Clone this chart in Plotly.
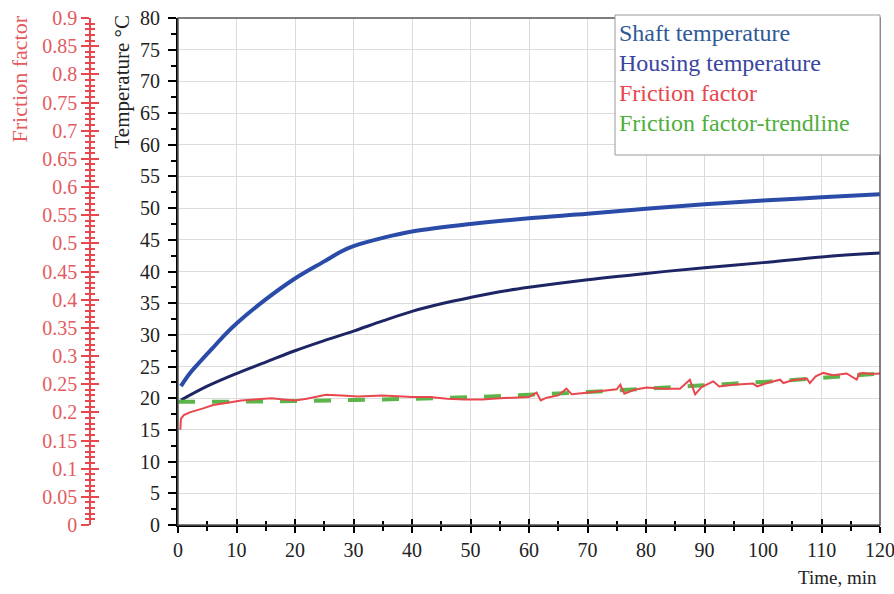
import plotly.graph_objects as go

# ---------------- data ----------------
shaft_t = [0.5, 2, 4, 6, 8, 10, 15, 20, 25, 28, 30, 35, 40, 50, 60, 70, 80, 90, 100, 110, 120]
shaft_temp = [21.9, 23.9, 26.0, 28.0, 30.0, 31.8, 35.6, 38.9, 41.6, 43.2, 44.0, 45.3, 46.3, 47.5,
              48.4, 49.1, 49.9, 50.6, 51.2, 51.7, 52.2]

housing_t = [0.5, 5, 10, 15, 20, 25, 30, 35, 40, 45, 50, 55, 60, 70, 80, 90, 100, 110, 120]
housing_temp = [19.7, 21.9, 23.9, 25.7, 27.5, 29.1, 30.6, 32.2, 33.7, 34.9, 35.9, 36.8, 37.5,
                38.7, 39.7, 40.6, 41.4, 42.3, 42.9]

friction_t = [0.4, 0.5, 1, 2, 4.3, 6, 8.5, 10.8, 13, 16, 18, 20, 22, 25.3, 28, 30.7, 35, 40, 43,
              46, 49, 52, 55, 58, 60, 61.3, 62, 63, 65, 66.4, 67.3, 69, 72, 75, 75.6, 76.3, 78,
              80.1, 83, 85.8, 87.5, 88.4, 89.5, 91.5, 92.5, 95, 98.3, 99, 101, 102.9, 103.5, 105,
              107.5, 108, 109, 110.3, 112, 114.3, 116, 116.5, 117.2, 118.5, 120]
friction = [0.169, 0.189, 0.195, 0.200, 0.207, 0.213, 0.217, 0.221, 0.223, 0.225, 0.223, 0.221,
            0.224, 0.231, 0.230, 0.228, 0.230, 0.227, 0.227, 0.224, 0.223, 0.223, 0.225, 0.226,
            0.227, 0.235, 0.221, 0.226, 0.230, 0.242, 0.232, 0.234, 0.237, 0.241, 0.249, 0.233,
            0.240, 0.244, 0.242, 0.242, 0.258, 0.232, 0.245, 0.255, 0.246, 0.249, 0.251, 0.246,
            0.253, 0.258, 0.252, 0.257, 0.260, 0.252, 0.264, 0.270, 0.266, 0.269, 0.258, 0.269,
            0.270, 0.268, 0.269]

trend_t = [0, 10, 20, 30, 40, 50, 60, 70, 80, 90, 100, 110, 120]
trend = [0.219, 0.219, 0.220, 0.222, 0.224, 0.227, 0.231, 0.236, 0.242, 0.248, 0.254, 0.261, 0.269]

legend_labels = ["Shaft temperature", "Housing temperature", "Friction factor",
                 "Friction factor-trendline"]

# ---------------- layout helpers ----------------
W, H = 894, 594
ML, MR, MT, MB = 10, 14, 18, 69
PW, PH = W - ML - MR, H - MT - MB


def px_x(p):
    return (p - ML) / PW


def px_y(p):
    return (H - MB - p) / PH


FONT = "Liberation Serif, Times New Roman, serif"
RED = "#e8474e"
RED_TXT = "#e35a60"
X0 = px_x(178)
FPOS = px_x(90)

fig = go.Figure()
fig.add_trace(go.Scatter(x=shaft_t, y=shaft_temp, mode="lines", name=legend_labels[0],
                         line=dict(color="#2a4ca8", width=4, shape="spline", smoothing=1.0),
                         xaxis="x", yaxis="y"))
fig.add_trace(go.Scatter(x=housing_t, y=housing_temp, mode="lines", name=legend_labels[1],
                         line=dict(color="#1e2565", width=3, shape="spline", smoothing=1.0),
                         xaxis="x", yaxis="y"))
fig.add_trace(go.Scatter(x=trend_t, y=trend, mode="lines", name=legend_labels[3],
                         line=dict(color="#5cb54a", width=4, dash="17px,17px", shape="spline"),
                         xaxis="x", yaxis="y2"))
fig.add_trace(go.Scatter(x=friction_t, y=friction, mode="lines", name=legend_labels[2],
                         line=dict(color=RED, width=2),
                         xaxis="x", yaxis="y2"))
# helper (empty) traces so the overlay tick axes get drawn
fig.add_trace(go.Scatter(x=[None], y=[None], xaxis="x2", yaxis="y", showlegend=False))
fig.add_trace(go.Scatter(x=[None], y=[None], xaxis="x", yaxis="y3", showlegend=False))

tickfont = dict(family=FONT, size=20, color="#222")

fig.update_layout(
    width=W, height=H,
    margin=dict(l=ML, r=MR, t=MT, b=MB, autoexpand=False),
    paper_bgcolor="white", plot_bgcolor="white",
    showlegend=False,
    font=dict(family=FONT),
    xaxis=dict(domain=[X0, 1], range=[0, 120], dtick=10, tick0=0, automargin=False,
               ticklabeloverflow="allow",
               showline=True, linecolor="black", linewidth=2,
               ticks="outside", ticklen=6, tickwidth=1.5, tickcolor="black",
               minor=dict(dtick=5, ticks="outside", ticklen=4, tickcolor="black", showgrid=False),
               showgrid=True, gridcolor="#dcdcdc", gridwidth=1,
               zeroline=False, tickfont=tickfont, anchor="y"),
    xaxis2=dict(domain=[X0, 1], range=[0, 120], dtick=10, overlaying="x", anchor="y",
                automargin=False,
                side="bottom", ticks="inside", ticklen=6, tickwidth=1.5, tickcolor="black",
                minor=dict(dtick=5, ticks="inside", ticklen=4, tickcolor="black"),
                showticklabels=False, showgrid=False, showline=False, zeroline=False),
    yaxis=dict(range=[0, 80], dtick=5, tick0=0, automargin=False,
               showline=True, linecolor="black", linewidth=2,
               ticks="outside", ticklen=8, tickwidth=1.5, tickcolor="black",
               minor=dict(dtick=2.5, ticks="outside", ticklen=5, tickcolor="black", showgrid=False),
               showgrid=True, gridcolor="#dcdcdc", gridwidth=1,
               zeroline=False, tickfont=tickfont, anchor="x", ticklabelstandoff=4),
    yaxis2=dict(range=[0, 0.9], dtick=0.05, tick0=0, overlaying="y", anchor="free",
                position=FPOS, side="left", automargin=False,
                showline=True, linecolor=RED, linewidth=1.5,
                ticks="outside", ticklen=8, tickwidth=1.5, tickcolor=RED,
                minor=dict(dtick=0.01, ticks="outside", ticklen=4, tickcolor=RED),
                showgrid=False, zeroline=False,
                tickfont=dict(family=FONT, size=20, color=RED_TXT)),
    yaxis3=dict(range=[0, 0.9], dtick=0.05, tick0=0, overlaying="y", anchor="free",
                position=FPOS, side="left", automargin=False,
                showline=False, ticks="inside", ticklen=8, tickwidth=1.5, tickcolor=RED,
                minor=dict(dtick=0.01, ticks="inside", ticklen=4, tickcolor=RED),
                showticklabels=False, showgrid=False, zeroline=False),
)

# plot border (top / right)
fig.add_shape(type="rect", xref="paper", yref="paper", x0=X0, x1=1, y0=0, y1=1,
              line=dict(color="#555", width=1.5), layer="above")
# legend box
fig.add_shape(type="rect", xref="paper", yref="paper", x0=px_x(615), x1=1,
              y0=px_y(155), y1=px_y(15), line=dict(color="#999", width=1),
              fillcolor="white", layer="above")

leg_colors = ["#2f5a96", "#3a45a0", RED, "#4fae3c"]
for i, (lab, col) in enumerate(zip(legend_labels, leg_colors)):
    fig.add_annotation(xref="paper", yref="paper", x=px_x(617), y=px_y(33 + 30 * i),
                       xanchor="left", yanchor="middle", text=lab, showarrow=False,
                       font=dict(family=FONT, size=24, color=col))

fig.add_annotation(xref="paper", yref="paper", x=px_x(19), y=px_y(14), xanchor="center",
                   yanchor="top", textangle=-90, text="Friction factor", showarrow=False,
                   font=dict(family=FONT, size=22, color=RED_TXT))
fig.add_annotation(xref="paper", yref="paper", x=px_x(122), y=px_y(14), xanchor="center",
                   yanchor="top", textangle=-90, text="Temperature °C", showarrow=False,
                   font=dict(family=FONT, size=21, color="#222"))
fig.add_annotation(xref="paper", yref="paper", x=px_x(879), y=px_y(577), xanchor="right",
                   yanchor="middle", text="Time, min", showarrow=False,
                   font=dict(family=FONT, size=19, color="#222"))

fig.write_html("out.html", config={"displayModeBar": False},
               post_script="document.body.style.margin='0';")
